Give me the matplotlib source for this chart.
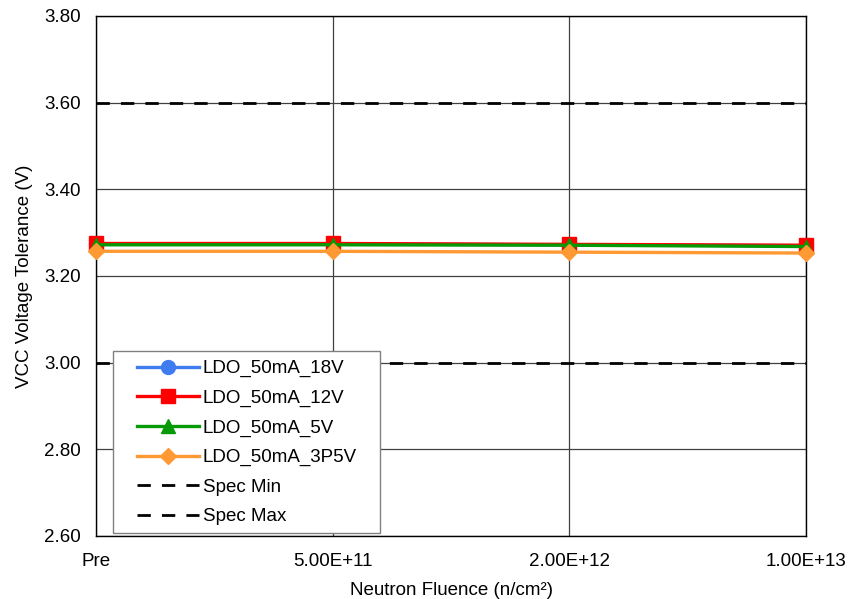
import matplotlib
matplotlib.use("Agg")
import matplotlib.pyplot as plt
from matplotlib.patches import Rectangle

plt.rcParams['font.family'] = ['Liberation Sans', 'DejaVu Sans']

fluence = ["Pre", "5.00E+11", "2.00E+12", "1.00E+13"]
ldo_18v = [3.274, 3.274, 3.272, 3.270]
ldo_12v = [3.275, 3.275, 3.273, 3.271]
ldo_5v = [3.272, 3.272, 3.271, 3.268]
ldo_3p5v = [3.257, 3.257, 3.255, 3.253]
spec_min = [3.00, 3.00, 3.00, 3.00]
spec_max = [3.60, 3.60, 3.60, 3.60]
yticks = [2.60, 2.80, 3.00, 3.20, 3.40, 3.60, 3.80]

fs = 13.5
fig = plt.figure(figsize=(8.49, 5.99), dpi=100)
ax = fig.add_axes([96/849, 1-536/599, (806-96)/849, (536-16)/599])

x = list(range(len(fluence)))
lw = 2.4
common = dict(lw=lw, clip_on=False)
ax.plot(x, ldo_18v, color='#3f7cf0', marker='o', ms=10, label='LDO_50mA_18V', zorder=3, **common)
ax.plot(x, ldo_12v, color='#ff0000', marker='s', ms=10, label='LDO_50mA_12V', zorder=4, **common)
ax.plot(x, ldo_5v, color='#069a06', marker='^', ms=10, label='LDO_50mA_5V', zorder=5, **common)
ax.plot(x, ldo_3p5v, color='#ff9933', marker='D', ms=8.5, label='LDO_50mA_3P5V', zorder=6, **common)
ax.plot(x, spec_min, color='black', lw=2, ls=(0, (4.8, 4)), label='Spec Min', zorder=2)
ax.plot(x, spec_max, color='black', lw=2, ls=(0, (4.8, 4)), label='Spec Max', zorder=2)

ax.set_xlim(0, len(fluence) - 1)
ax.set_ylim(2.60, 3.80)
ax.set_xticks(x)
ax.set_xticklabels(fluence)
ax.set_yticks(yticks)
ax.set_yticklabels([f"{v:.2f}" for v in yticks])
ax.tick_params(axis='x', length=0, labelsize=fs, pad=12)
ax.tick_params(axis='y', length=0, labelsize=fs, pad=11)
ax.grid(True, color='#404040', lw=0.9)
ax.set_axisbelow(True)
for s in ax.spines.values():
    s.set_color('black')
    s.set_linewidth(1.0)

ax.set_xlabel('Neutron Fluence (n/cm²)', fontsize=fs, labelpad=9)
ax.set_ylabel('VCC Voltage Tolerance (V)', fontsize=fs, labelpad=8)

# legend box drawn as its own patch so the padding around the entries can be set freely
box = Rectangle((17/710, 3/520), (380-113)/710, (533-351)/520, transform=ax.transAxes,
                facecolor='white', edgecolor='#808080', lw=1.0, zorder=9)
ax.add_patch(box)
leg = ax.legend(loc='upper left', bbox_to_anchor=((137-96)/710, (536-360)/520), fontsize=fs,
                frameon=False, handlelength=3.3, handletextpad=0.2, labelspacing=0.66,
                borderpad=0.0, borderaxespad=0.0)
leg.set_zorder(10)

fig.savefig('out.png', dpi=100)
